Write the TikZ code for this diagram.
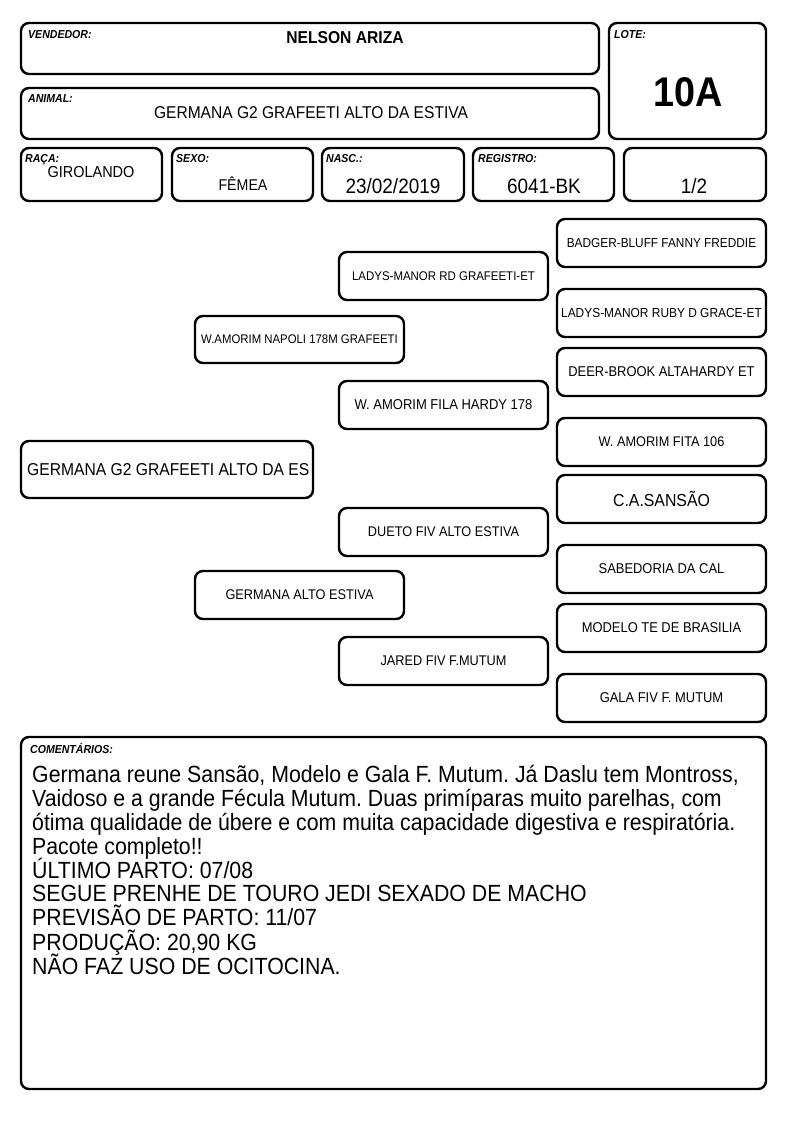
\documentclass[tikz,border=0pt]{standalone}
\usepackage{fontspec}
\setmainfont{Liberation Sans}[FakeStretch=0.91]
\frenchspacing
\newcommand\fsz[1]{\fontsize{#1}{#1}\selectfont}
\begin{document}
\begin{tikzpicture}[x=1pt,y=-1pt,
  frame/.style={draw, line width=2.4pt, rounded corners=8pt, inner sep=0pt},
  pbox/.style={frame, minimum width=209pt, minimum height=48pt, font=\fsz{13.4}},
  lbl/.style={font=\fsz{11.6}\bfseries\itshape, inner sep=0pt, anchor=north west},
  val/.style={inner sep=0pt},
  ctext/.style={inner sep=0pt, anchor=base west, font=\fsz{23.4}}]
\useasboundingbox (0,0) rectangle (794,1123);
% header frames
\node[frame, minimum width=578pt, minimum height=51pt] (vend) at (310,48.5) {};
\node[frame, minimum width=157pt, minimum height=116pt] (lote) at (687.5,81) {};
\node[frame, minimum width=578pt, minimum height=51pt] (animal) at (310,113.5) {};
\node[frame, minimum width=141pt, minimum height=53pt] (raca) at (91.5,174.5) {};
\node[frame, minimum width=141pt, minimum height=53pt] (sexo) at (242.5,174.5) {};
\node[frame, minimum width=142pt, minimum height=53pt] (nasc) at (393,174.5) {};
\node[frame, minimum width=141pt, minimum height=53pt] (reg) at (543.5,174.5) {};
\node[frame, minimum width=142pt, minimum height=53pt] (part) at (695,174.5) {};
% labels
\node[lbl] (vendl) at (28,30) {VENDEDOR:};
\node[lbl] (lotel) at (614,30) {LOTE:};
\node[lbl] (animall) at (28,94) {ANIMAL:};
\node[lbl] (racal) at (25,154) {RAÇA:};
\node[lbl] (sexol) at (176,154) {SEXO:};
\node[lbl] (nascl) at (326,154) {NASC.:};
\node[lbl] (regl) at (478,154) {REGISTRO:};
% values
\node[val, font=\fsz{17.2}\bfseries] (vendv) at (345,38) {NELSON ARIZA};
\node[val, font=\fsz{41.5}\bfseries] (lotev) at (688,92) {10A};
\node[val, font=\fsz{17.1}] (animalv) at (311,113) {GERMANA G2 GRAFEETI ALTO DA ESTIVA};
\node[val, font=\fsz{15.9}] (racav) at (91,172) {GIROLANDO};
\node[val, font=\fsz{15.6}] (sexov) at (243,184) {FÊMEA};
\node[val, font=\fsz{20.8}] (nascv) at (393,186) {23/02/2019};
\node[val, font=\fsz{20.8}] (regv) at (544,186) {6041-BK};
\node[val, font=\fsz{20.8}] (partv) at (694,186) {1/2};
% pedigree
\node[frame, minimum width=292pt, minimum height=57pt] (g0) at (167,469.5) {};
\node[val, font=\fsz{17.2}, anchor=west] (g0t) at (27,469.5) {GERMANA G2 GRAFEETI ALTO DA ES};
\node[pbox, minimum height=47pt, font=\fsz{12.5}] (s1) at (299.5,339.5) {W.AMORIM NAPOLI 178M GRAFEETI};
\node[pbox, font=\fsz{14}] (d1) at (299.5,595) {GERMANA ALTO ESTIVA};
\node[pbox, font=\fsz{12.6}] (ss) at (443.5,276) {LADYS-MANOR RD GRAFEETI-ET};
\node[pbox, font=\fsz{14.3}] (sd) at (443.5,405) {W. AMORIM FILA HARDY 178};
\node[pbox, font=\fsz{14}] (ds) at (443.5,532) {DUETO FIV ALTO ESTIVA};
\node[pbox, font=\fsz{14}] (dd) at (443.5,661) {JARED FIV F.MUTUM};
\node[pbox, font=\fsz{13}] (sss) at (661.5,243) {BADGER-BLUFF FANNY FREDDIE};
\node[pbox, font=\fsz{13.1}] (ssd) at (661.5,313) {LADYS-MANOR RUBY D GRACE-ET};
\node[pbox, font=\fsz{14.2}] (sds) at (661.5,372) {DEER-BROOK ALTAHARDY ET};
\node[pbox, font=\fsz{14}] (sdd) at (661.5,442) {W. AMORIM FITA 106};
\node[pbox, font=\fsz{17.4}] (dss) at (661.5,499) {C.A.SANSÃO};
\node[pbox, font=\fsz{14.2}] (dsd) at (661.5,569) {SABEDORIA DA CAL};
\node[pbox, font=\fsz{14.2}] (dds) at (661.5,628) {MODELO TE DE BRASILIA};
\node[pbox, font=\fsz{14.2}] (ddd) at (661.5,698) {GALA FIV F. MUTUM};
% comments
\node[frame, minimum width=745pt, minimum height=352pt] (com) at (393.5,913) {};
\node[lbl] (coml) at (30,743) {COMENTÁRIOS:};
\node[ctext] (c1) at (32,782) {Germana reune Sansão, Modelo e Gala F. Mutum. Já Daslu tem Montross,};
\node[ctext] (c2) at (32,806) {Vaidoso e a grande Fécula Mutum. Duas primíparas muito parelhas, com};
\node[ctext] (c3) at (32,830) {ótima qualidade de úbere e com muita capacidade digestiva e respiratória.};
\node[ctext] (c4) at (32,854) {Pacote completo!!};
\node[ctext] (c5) at (32,878) {ÚLTIMO PARTO: 07/08};
\node[ctext] (c6) at (32,901) {SEGUE PRENHE DE TOURO JEDI SEXADO DE MACHO};
\node[ctext] (c7) at (32,925) {PREVISÃO DE PARTO: 11/07};
\node[ctext] (c8) at (32,950) {PRODUÇÃO: 20,90 KG};
\node[ctext] (c9) at (32,974) {NÃO FAZ USO DE OCITOCINA.};
\end{tikzpicture}
\end{document}
